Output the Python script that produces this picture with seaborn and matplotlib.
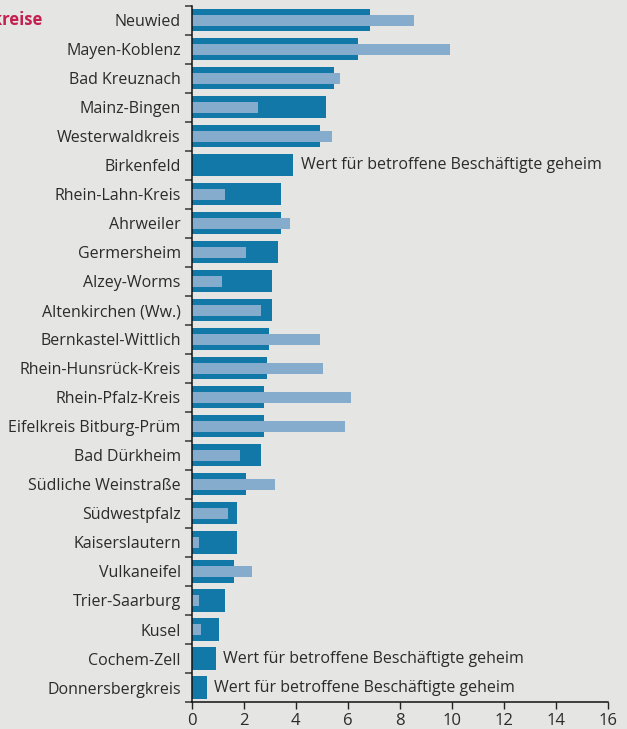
import numpy as np
import matplotlib
matplotlib.use("Agg")
import matplotlib.pyplot as plt
import seaborn as sns

kreise = ["Neuwied", "Mayen-Koblenz", "Bad Kreuznach", "Mainz-Bingen", "Westerwaldkreis",
          "Birkenfeld", "Rhein-Lahn-Kreis", "Ahrweiler", "Germersheim", "Alzey-Worms",
          "Altenkirchen (Ww.)", "Bernkastel-Wittlich", "Rhein-Hunsrück-Kreis", "Rhein-Pfalz-Kreis",
          "Eifelkreis Bitburg-Prüm", "Bad Dürkheim", "Südliche Weinstraße", "Südwestpfalz",
          "Kaiserslautern", "Vulkaneifel", "Trier-Saarburg", "Kusel", "Cochem-Zell",
          "Donnersbergkreis"]
# dunkle Balken
betriebe = [6.84, 6.38, 5.46, 5.15, 4.92, 3.88, 3.42, 3.42, 3.30, 3.07, 3.07, 2.96, 2.88,
            2.76, 2.76, 2.65, 2.07, 1.72, 1.72, 1.61, 1.26, 1.03, 0.91, 0.57]
# helle Balken (NaN = geheim)
beschaeftigte = [8.54, 9.93, 5.69, 2.53, 5.38, np.nan, 1.26, 3.76, 2.07, 1.15, 2.65, 4.92,
                 5.03, 6.11, 5.88, 1.84, 3.19, 1.38, 0.26, 2.30, 0.26, 0.37, np.nan, np.nan]
geheim_text = "Wert für betroffene Beschäftigte geheim"

bg = "#e5e5e3"
dark = "#1278a8"
light = "#85abcd"
txt = "#2b2b2b"

sns.set_style("white")
plt.rcParams['font.family'] = ['Open Sans', 'DejaVu Sans']

fig = plt.figure(figsize=(6.27, 7.29), dpi=100, facecolor=bg)
ax = fig.add_axes([0.306, 0.037, 0.6635, 0.955])
ax.set_facecolor(bg)

sns.barplot(x=betriebe, y=kreise, orient="h", color=dark, width=0.76,
            saturation=1, linewidth=0, ax=ax)
sns.barplot(x=beschaeftigte, y=kreise, orient="h", color=light, width=0.38,
            saturation=1, linewidth=0, ax=ax)

for i, (k, b, s) in enumerate(zip(kreise, betriebe, beschaeftigte)):
    if np.isnan(s):
        ax.text(b + 0.3, i, geheim_text, va="center", ha="left", fontsize=11.5, color=txt)

ax.set_xlim(0, 16)
ax.set_ylim(23.5, -0.5)
ax.set_xticks(range(0, 17, 2))
ax.set_yticks(range(len(kreise)))
ax.set_yticklabels(kreise)
ax.set_yticks(np.arange(-0.5, len(kreise), 1), minor=True)
ax.tick_params(axis="y", which="major", length=0, pad=8, labelsize=11.5, labelcolor=txt)
ax.tick_params(axis="y", which="minor", length=5, width=1.2, color="#444444", left=True)
ax.tick_params(axis="x", length=5, width=1, color="#222222", bottom=True,
               labelsize=12, labelcolor=txt, pad=3)
ax.set_xlabel("")
ax.set_ylabel("")
for side in ["top", "right"]:
    ax.spines[side].set_visible(False)
for side in ["left", "bottom"]:
    ax.spines[side].set_color("#111111")
    ax.spines[side].set_linewidth(1.1)

fig.text(43 / 627, 1 - 20 / 729, "Landkreise", ha="right", va="center",
         fontsize=12, fontweight="bold", color="#c3204f")

fig.savefig("out.png", dpi=100, facecolor=bg)
